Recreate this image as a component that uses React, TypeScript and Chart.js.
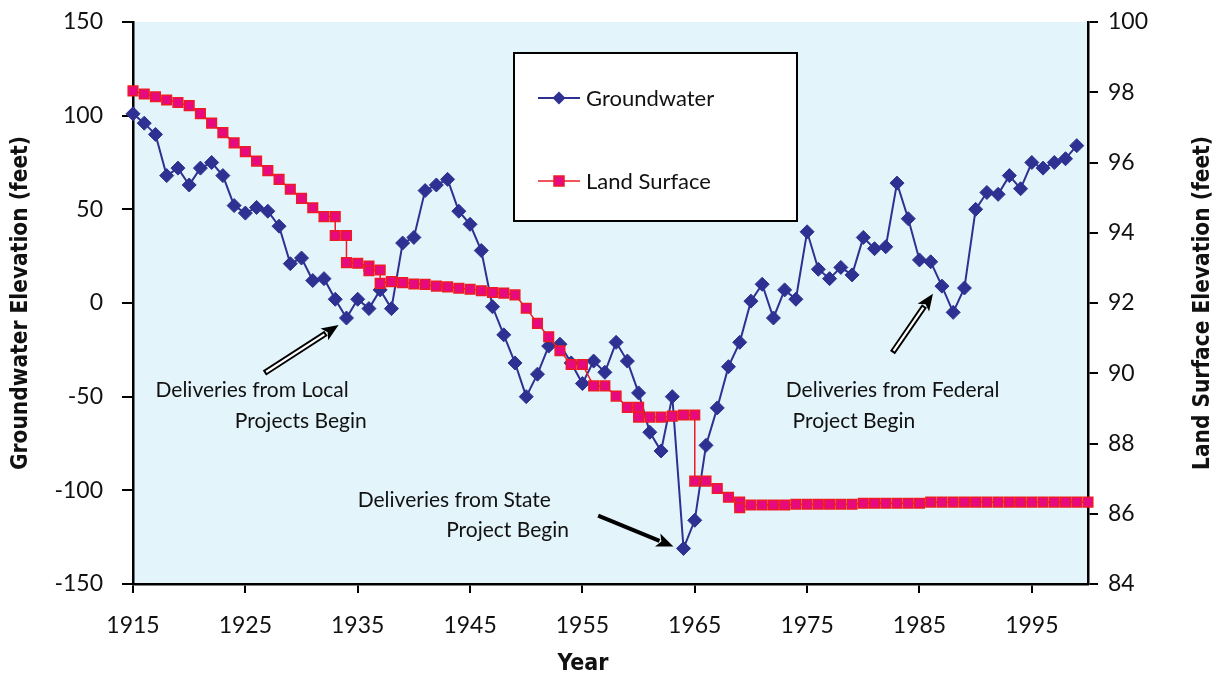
import { useEffect, useRef } from "react";
import { Chart, registerables } from "chart.js";

Chart.register(...registerables);

// ---------- data ----------
const groundwaterYears = [
  1915, 1916, 1917, 1918, 1919, 1920, 1921, 1922, 1923, 1924,
  1925, 1926, 1927, 1928, 1929, 1930, 1931, 1932, 1933, 1934,
  1935, 1936, 1937, 1938, 1939, 1940, 1941, 1942, 1943, 1944,
  1945, 1946, 1947, 1948, 1949, 1950, 1951, 1952, 1953, 1954,
  1955, 1956, 1957, 1958, 1959, 1960, 1961, 1962, 1963, 1964,
  1965, 1966, 1967, 1968, 1969, 1970, 1971, 1972, 1973, 1974,
  1975, 1976, 1977, 1978, 1979, 1980, 1981, 1982, 1983, 1984,
  1985, 1986, 1987, 1988, 1989, 1990, 1991, 1992, 1993, 1994,
  1995, 1996, 1997, 1998, 1999,
];
const groundwaterValues = [
  101, 96, 90, 68, 72, 63, 72, 75, 68, 52,
  48, 51, 49, 41, 21, 24, 12, 13, 2, -8,
  2, -3, 7, -3, 32, 35, 60, 63, 66, 49,
  42, 28, -2, -17, -32, -50, -38, -23, -22, -32,
  -43, -31, -37, -21, -31, -48, -69, -79, -50, -131,
  -116, -76, -56, -34, -21, 1, 10, -8, 7, 2,
  38, 18, 13, 19, 15, 35, 29, 30, 64, 45,
  23, 22, 9, -5, 8, 50, 59, 58, 68, 61,
  75, 72, 75, 77, 84,
];

const landYears = [
  1915, 1916, 1917, 1918, 1919, 1920, 1921, 1922, 1923, 1924,
  1925, 1926, 1927, 1928, 1929, 1930, 1931, 1932, 1933, 1933,
  1934, 1934, 1935, 1936, 1936, 1937, 1937, 1938, 1939, 1940,
  1941, 1942, 1943, 1944, 1945, 1946, 1947, 1948, 1949, 1950,
  1951, 1952, 1953, 1954, 1955, 1956, 1957, 1958, 1959, 1960,
  1960, 1961, 1962, 1963, 1964, 1965, 1965, 1966, 1967, 1968,
  1969, 1969, 1970, 1971, 1972, 1973, 1974, 1975, 1976, 1977,
  1978, 1979, 1980, 1981, 1982, 1983, 1984, 1985, 1986, 1987,
  1988, 1989, 1990, 1991, 1992, 1993, 1994, 1995, 1996, 1997,
  1998, 1999, 2000,
];
const landValues = [
  98.04, 97.95, 97.87, 97.78, 97.71, 97.62, 97.39, 97.12, 96.85, 96.56,
  96.31, 96.04, 95.77, 95.52, 95.24, 94.98, 94.71, 94.46, 94.46, 93.92,
  93.92, 93.15, 93.13, 93.05, 92.92, 92.94, 92.56, 92.61, 92.58, 92.54,
  92.53, 92.48, 92.46, 92.42, 92.39, 92.35, 92.3, 92.28, 92.23, 91.85,
  91.42, 91.04, 90.64, 90.25, 90.25, 89.64, 89.64, 89.35, 89.03, 89.03,
  88.75, 88.75, 88.75, 88.78, 88.81, 88.81, 86.93, 86.93, 86.72, 86.47,
  86.33, 86.17, 86.25, 86.25, 86.25, 86.25, 86.27, 86.27, 86.27, 86.27,
  86.27, 86.27, 86.3, 86.3, 86.3, 86.3, 86.3, 86.3, 86.33, 86.33,
  86.33, 86.33, 86.33, 86.33, 86.33, 86.33, 86.33, 86.33, 86.33, 86.33,
  86.33, 86.33, 86.33,
];

const xTickValues = [1915, 1925, 1935, 1945, 1955, 1965, 1975, 1985, 1995];
const seriesNames = ["Groundwater", "Land Surface"];
const axisTitles = {
  left: "Groundwater Elevation (feet)",
  right: "Land Surface Elevation (feet)",
  bottom: "Year",
};

// annotations in data coordinates (x: year, y: left-axis feet)
const annotations = [
  {
    lines: ["Deliveries from Local", "Projects Begin"],
    l1: { x: 1917.0, y: -46.4, align: "left" },
    l2: { x: 1935.8, y: -63, align: "right" },
    arrow: { from: [1926.7, -37.4], to: [1933.3, -11.8], hollow: true },
  },
  {
    lines: ["Deliveries from State", "Project Begin"],
    l1: { x: 1935.0, y: -105.2, align: "left" },
    l2: { x: 1953.8, y: -121.2, align: "right" },
    arrow: { from: [1956.4, -113.5], to: [1963.1, -130.0], hollow: false },
  },
  {
    lines: ["Deliveries from Federal", "Project Begin"],
    l1: { x: 1973.1, y: -46.4, align: "left" },
    l2: { x: 1973.7, y: -63, align: "left" },
    arrow: { from: [1982.6, -26.5], to: [1986.2, 5.0], hollow: true },
  },
];

// ---------- styles ----------
const NAVY = "#2E3192";
const RED = "#ED1C24";
const MAGENTA = "#E6097F";
const PLOT_BG = "#E3F4FB";
const TEXT = "#111111";
const FONT = "Lato, 'Open Sans', sans-serif";
const TITLE_FONT = "'Liberation Sans Narrow', 'DejaVu Sans Condensed', sans-serif";

function drawArrow(ctx: CanvasRenderingContext2D, x1: number, y1: number, x2: number, y2: number, hollow: boolean) {
  const ang = Math.atan2(y2 - y1, x2 - x1);
  const headLen = 17;
  const headHalf = 7;
  const bx = x2 - Math.cos(ang) * headLen;
  const by = y2 - Math.sin(ang) * headLen;
  ctx.save();
  ctx.lineCap = "butt";
  if (hollow) {
    ctx.strokeStyle = "#000";
    ctx.lineWidth = 6;
    ctx.beginPath();
    ctx.moveTo(x1, y1);
    ctx.lineTo(bx + Math.cos(ang) * 2, by + Math.sin(ang) * 2);
    ctx.stroke();
    ctx.strokeStyle = "#fff";
    ctx.lineWidth = 2.2;
    ctx.beginPath();
    ctx.moveTo(x1 + Math.cos(ang) * 2, y1 + Math.sin(ang) * 2);
    ctx.lineTo(bx, by);
    ctx.stroke();
  } else {
    ctx.strokeStyle = "#000";
    ctx.lineWidth = 4;
    ctx.beginPath();
    ctx.moveTo(x1, y1);
    ctx.lineTo(bx + Math.cos(ang) * 2, by + Math.sin(ang) * 2);
    ctx.stroke();
  }
  ctx.fillStyle = "#000";
  ctx.beginPath();
  ctx.moveTo(x2, y2);
  ctx.lineTo(bx + Math.sin(ang) * headHalf, by - Math.cos(ang) * headHalf);
  ctx.lineTo(bx + Math.cos(ang) * 4, by + Math.sin(ang) * 4);
  ctx.lineTo(bx - Math.sin(ang) * headHalf, by + Math.cos(ang) * headHalf);
  ctx.closePath();
  ctx.fill();
  ctx.restore();
}

function drawDiamond(ctx: CanvasRenderingContext2D, x: number, y: number, r: number) {
  ctx.beginPath();
  ctx.moveTo(x, y - r);
  ctx.lineTo(x + r, y);
  ctx.lineTo(x, y + r);
  ctx.lineTo(x - r, y);
  ctx.closePath();
  ctx.fillStyle = NAVY;
  ctx.fill();
}

function drawSquare(ctx: CanvasRenderingContext2D, x: number, y: number, s: number) {
  ctx.fillStyle = MAGENTA;
  ctx.fillRect(x - s / 2, y - s / 2, s, s);
  ctx.strokeStyle = RED;
  ctx.lineWidth = 1.5;
  ctx.strokeRect(x - s / 2, y - s / 2, s, s);
}

const backgroundPlugin = {
  id: "plotBackground",
  beforeDraw(chart: any) {
    const { ctx, chartArea: a } = chart;
    ctx.save();
    ctx.fillStyle = "#ffffff";
    ctx.fillRect(0, 0, chart.width, chart.height);
    ctx.fillStyle = PLOT_BG;
    ctx.fillRect(a.left, a.top, a.right - a.left, a.bottom - a.top);
    ctx.restore();
  },
};

const overlayPlugin = {
  id: "overlay",
  afterDraw(chart: any) {
    const { ctx, chartArea: a } = chart;
    const xs = chart.scales.x;
    const ys = chart.scales.y;
    ctx.save();

    // legend box
    const lx = 514, ly = 53, lw = 283, lh = 168;
    ctx.fillStyle = "#fff";
    ctx.fillRect(lx, ly, lw, lh);
    ctx.strokeStyle = "#000";
    ctx.lineWidth = 2;
    ctx.strokeRect(lx, ly, lw, lh);
    const rows = [ly + 45, ly + 128];
    ctx.strokeStyle = NAVY;
    ctx.lineWidth = 2;
    ctx.beginPath();
    ctx.moveTo(lx + 24, rows[0]);
    ctx.lineTo(lx + 66, rows[0]);
    ctx.stroke();
    drawDiamond(ctx, lx + 45, rows[0], 6.5);
    ctx.strokeStyle = RED;
    ctx.lineWidth = 1.5;
    ctx.beginPath();
    ctx.moveTo(lx + 24, rows[1]);
    ctx.lineTo(lx + 66, rows[1]);
    ctx.stroke();
    drawSquare(ctx, lx + 45, rows[1], 10);
    ctx.fillStyle = TEXT;
    ctx.font = `22px ${FONT}`;
    ctx.textAlign = "left";
    ctx.textBaseline = "middle";
    ctx.fillText(seriesNames[0], lx + 72, rows[0] + 1);
    ctx.fillText(seriesNames[1], lx + 72, rows[1] + 1);

    // annotations
    for (const an of annotations) {
      ctx.fillStyle = TEXT;
      ctx.font = `21px ${FONT}`;
      ctx.textBaseline = "middle";
      ctx.textAlign = an.l1.align as CanvasTextAlign;
      ctx.fillText(an.lines[0], xs.getPixelForValue(an.l1.x), ys.getPixelForValue(an.l1.y));
      ctx.textAlign = an.l2.align as CanvasTextAlign;
      ctx.fillText(an.lines[1], xs.getPixelForValue(an.l2.x), ys.getPixelForValue(an.l2.y));
      const f = an.arrow.from, t = an.arrow.to;
      drawArrow(
        ctx,
        xs.getPixelForValue(f[0]), ys.getPixelForValue(f[1]),
        xs.getPixelForValue(t[0]), ys.getPixelForValue(t[1]),
        an.arrow.hollow
      );
    }

    // axis titles
    ctx.fillStyle = TEXT;
    ctx.font = `bold 23px ${TITLE_FONT}`;
    ctx.textAlign = "center";
    ctx.textBaseline = "middle";
    const midY = (a.top + a.bottom) / 2;
    ctx.save();
    ctx.translate(21, midY);
    ctx.rotate(-Math.PI / 2);
    ctx.fillText(axisTitles.left, 0, 0, 334);
    ctx.restore();
    ctx.save();
    ctx.translate(1203, midY);
    ctx.rotate(-Math.PI / 2);
    ctx.fillText(axisTitles.right, 0, 0, 334);
    ctx.restore();
    ctx.fillText(axisTitles.bottom, 583, 664);

    ctx.restore();
  },
};

export default function App() {
  const canvasRef = useRef<HTMLCanvasElement | null>(null);

  useEffect(() => {
    document.body.style.margin = "0";
    const canvas = canvasRef.current;
    if (!canvas) return;

    const tickFont = { family: FONT, size: 23 };
    const fitVertical = (w: number) => (scale: any) => {
      scale.width = w;
      scale.paddingTop = 0;
      scale.paddingBottom = 0;
    };
    const chart = new Chart(canvas, {
      type: "line",
      data: {
        datasets: [
          {
            label: seriesNames[1],
            data: landYears.map((yr, i) => ({ x: yr, y: landValues[i] })),
            yAxisID: "y2",
            borderColor: RED,
            borderWidth: 1.5,
            backgroundColor: MAGENTA,
            pointBackgroundColor: MAGENTA,
            pointBorderColor: RED,
            pointBorderWidth: 1.5,
            pointStyle: "rect",
            pointRadius: 6.8,
            tension: 0,
            clip: false as any,
          },
          {
            label: seriesNames[0],
            data: groundwaterYears.map((yr, i) => ({ x: yr, y: groundwaterValues[i] })),
            yAxisID: "y",
            borderColor: NAVY,
            borderWidth: 2,
            backgroundColor: NAVY,
            pointBackgroundColor: NAVY,
            pointBorderColor: NAVY,
            pointBorderWidth: 1,
            pointStyle: "rectRot",
            pointRadius: 7,
            tension: 0,
            clip: false as any,
          },
        ],
      },
      options: {
        animation: false,
        responsive: false,
        maintainAspectRatio: false,
        layout: { padding: { top: 22, left: 0, right: 0, bottom: 0 } },
        plugins: {
          legend: { display: false },
          tooltip: { enabled: false },
          title: { display: false },
        },
        scales: {
          x: {
            type: "linear",
            position: "bottom",
            min: 1915,
            max: 2000,
            afterBuildTicks: (scale: any) => {
              scale.ticks = xTickValues.map((v) => ({ value: v }));
            },
            afterFit: (scale: any) => {
              scale.height = 93;
              scale.paddingLeft = 0;
              scale.paddingRight = 0;
            },
            ticks: {
              callback: (v: any) => String(v),
              font: tickFont,
              color: TEXT,
              padding: 19,
              maxRotation: 0,
              autoSkip: false,
            },
            grid: {
              drawOnChartArea: false,
              drawTicks: true,
              tickLength: 9,
              color: "#000",
              lineWidth: 2,
            },
            border: { display: true, color: "#000", width: 2.5 },
          },
          y: {
            type: "linear",
            position: "left",
            min: -150,
            max: 150,
            ticks: { stepSize: 50, font: tickFont, color: TEXT, padding: 19 },
            afterFit: fitVertical(133),
            grid: {
              drawOnChartArea: false,
              drawTicks: true,
              tickLength: 11,
              color: "#000",
              lineWidth: 2,
            },
            border: { display: true, color: "#000", width: 2.5 },
          },
          y2: {
            type: "linear",
            position: "right",
            min: 84,
            max: 100,
            ticks: { stepSize: 2, font: tickFont, color: TEXT, padding: 10 },
            afterFit: fitVertical(130),
            grid: {
              drawOnChartArea: false,
              drawTicks: true,
              tickLength: 10,
              color: "#000",
              lineWidth: 2,
            },
            border: { display: true, color: "#000", width: 2.5 },
          },
        },
      },
      plugins: [backgroundPlugin, overlayPlugin],
    } as any);

    return () => {
      chart.destroy();
    };
  }, []);

  return (
    <div style={{ width: 1218, height: 677 }}>
      <canvas ref={canvasRef} width={1218} height={677} style={{ display: "block" }} />
    </div>
  );
}
